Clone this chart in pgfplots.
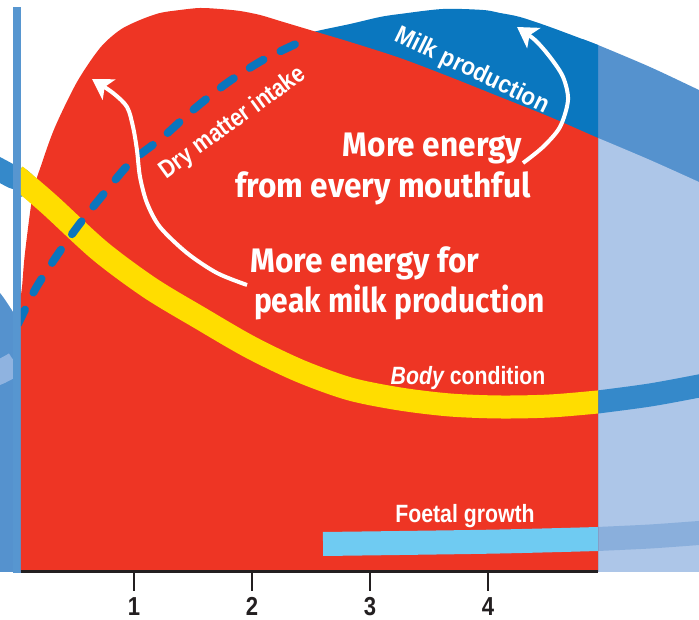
\documentclass[border=0pt]{standalone}
\usepackage{pgfplots}
\pgfplotsset{compat=1.18}
\usepackage{graphicx}
\usepackage{fontspec}
\setmainfont{Liberation Sans}
\newfontfamily\hand{Fira Sans}
\usetikzlibrary{arrows.meta}

\definecolor{cowred}{HTML}{EE3524}
\definecolor{milkblue}{HTML}{0A77BF}
\definecolor{dashblue}{HTML}{0B75BD}
\definecolor{bodyyel}{HTML}{FFDD00}
\definecolor{bodyblue}{HTML}{3589CA}
\definecolor{foetal}{HTML}{6FCBF2}
\definecolor{foetalpale}{HTML}{8AAFDC}
\definecolor{paleblue}{HTML}{ADC6E8}
\definecolor{midblue}{HTML}{5592CE}
\definecolor{barblue}{HTML}{5796D0}
\definecolor{stripe}{HTML}{8FB3E0}
\definecolor{baseblk}{HTML}{231F20}

\newcommand{\cnd}[1]{\scalebox{0.85}[1]{#1}}
\newcommand{\lbl}{\bfseries\fontsize{25}{28}\selectfont}
\newcommand{\hnd}{\hand\bfseries\fontsize{34}{38}\selectfont}
\newcommand{\hw}[1]{\scalebox{0.93}[1]{#1}}

\pgfplotsset{
  layer/.style={scale only axis, height=620pt, ymin=-4.8, ymax=57.2,
    anchor=south west, clip=true},
}

\begin{document}
\begin{tikzpicture}
% background: the previous and next cycle beyond the lactation window
\begin{axis}[layer, name=A, at={(0,0)}, width=699pt,
    xmin=-0.135593, xmax=5.788136, hide axis]
  % right side
  \addplot[draw=none, fill=midblue, smooth] coordinates {
    (4.80,53.3) (4.932,52.7) (5.373,50.5) (5.788,48.2) (5.9,47.6)} \closedcycle;
  \addplot[draw=none, fill=paleblue, smooth] coordinates {
    (4.80,44.0) (4.932,43.4) (5.373,41.2) (5.788,39.0) (5.9,38.4)} \closedcycle;
  \addplot[bodyblue, line width=23pt, smooth] coordinates {
    (4.80,16.8) (4.932,17.0) (5.373,17.7) (5.788,18.6) (5.9,18.9)};
  \addplot[foetalpale, line width=24pt, smooth] coordinates {
    (4.80,3.2) (4.932,3.3) (5.373,3.55) (5.788,3.9) (5.9,4.0)};
  % left side
  \addplot[draw=none, fill=midblue, smooth] coordinates {
    (-0.2,28.5) (-0.136,27.9) (-0.080,27.0) (-0.025,26.0) (0.0,25.6)} \closedcycle;
  \addplot[stripe, line width=24pt, smooth] coordinates {
    (-0.2,19.7) (-0.136,20.0) (-0.025,20.7) (0.0,20.9)};
  \addplot[bodyblue, line width=23pt, smooth] coordinates {
    (-0.2,40.6) (-0.136,40.2) (-0.025,39.5) (0.042,39.2) (0.12,38.3)};
  % calving bar
  \addplot[draw=none, fill=barblue] coordinates {
    (-0.0254,-0.1) (-0.0254,56.5) (0.0424,56.5) (0.0424,-0.1)} -- cycle;
\end{axis}

% lactation window, months 0 to ~4.9
\begin{axis}[layer, at={(21pt,0)}, width=577pt,
    xmin=0.04237, xmax=4.93220,
    axis x line=middle, axis y line=none, axis on top,
    x axis line style={-, line width=3pt, draw=baseblk},
    xtick={1,2,3,4}, ytick=\empty,
    xticklabels={\cnd{1},\cnd{2},\cnd{3},\cnd{4}},
    tick align=outside, major tick length=19pt,
    xtick style={line width=2.6pt, draw=baseblk},
    xticklabel style={font=\bfseries\fontsize{26}{26}\selectfont,
      text=baseblk, yshift=-3pt},
    /pgf/number format/assume math mode=true]
  % milk production
  \addplot[draw=none, fill=milkblue, smooth] coordinates {
    (2.40,53.4) (2.517,54.0) (2.831,54.8) (3.085,55.5) (3.254,55.8)
    (3.619,56.3) (3.958,56.2) (4.102,55.9) (4.271,55.5) (4.525,54.5)
    (4.932,52.7) (5.1,51.9)} \closedcycle;
  % energy demand
  \addplot[draw=none, fill=cowred, smooth] coordinates {
    (0.034,27.2) (0.051,28.5) (0.076,31.9) (0.144,37.9) (0.220,40.9)
    (0.331,44.5) (0.517,49.0) (0.712,52.4) (0.881,54.2) (1.051,55.2)
    (1.220,55.9) (1.390,56.2) (1.559,56.4) (1.729,56.3) (1.898,56.1)
    (2.068,55.7) (2.237,55.1) (2.407,54.5) (2.576,53.9) (2.831,53.0)
    (3.254,51.4) (3.678,49.5) (4.102,47.5) (4.525,45.5) (4.932,43.4)
    (5.119,42.5)} \closedcycle;
  % body condition
  \addplot[bodyyel, line width=23pt, smooth] coordinates {
    (0.0,39.6) (0.042,39.2) (0.288,36.7) (0.712,32.1) (1.136,28.4)
    (1.559,25.4) (1.983,22.5) (2.407,20.1) (2.831,18.3) (3.254,17.3)
    (3.678,16.7) (4.102,16.5) (4.525,16.6) (4.932,17.0) (5.1,17.2)};
  % foetal growth
  \addplot[foetal, line width=24pt, smooth] coordinates {
    (2.602,2.8) (3.254,2.9) (4.102,3.05) (4.932,3.3) (5.1,3.4)};
  % dry matter intake
  \addplot[dashblue, line width=8pt, line cap=round,
    dash pattern=on 16pt off 19pt, smooth] coordinates {
    (0.017,24.8) (0.042,25.4) (0.169,28.4) (0.356,31.8) (0.551,35.0)
    (0.771,38.2) (0.975,41.0) (1.246,43.5) (1.500,46.2) (1.788,48.9)
    (2.093,51.2) (2.407,53.0) (2.508,53.6)};
  % callout arrows
  \addplot[white, line width=4pt, smooth,
    -{Stealth[length=20pt, width=24pt, inset=5pt]}] coordinates {
    (1.958,28.7) (1.703,29.9) (1.449,31.9) (1.220,34.5) (1.110,36.9)
    (1.051,39.5) (1.025,42.2) (0.992,44.5) (0.941,46.5) (0.822,47.9)
    (0.644,49.3)};
  \addplot[white, line width=4pt, smooth,
    -{Stealth[length=20pt, width=24pt, inset=5pt]}] coordinates {
    (4.297,40.9) (4.466,42.5) (4.610,44.5) (4.678,47.2) (4.636,49.5)
    (4.525,51.5) (4.398,53.2) (4.246,54.5)};
  % series labels
  \node[text=white, rotate=-26] at (axis cs:3.864,50.1)
    {\lbl\scalebox{0.9}[1]{Milk production}};
  \node[text=white, rotate=36] at (axis cs:1.839,44.9)
    {\lbl\cnd{Dry matter intake}};
  \node[text=white, anchor=base] at (axis cs:3.831,18.7)
    {\lbl\cnd{\itshape Body \upshape condition}};
  \node[text=white, anchor=base] at (axis cs:3.805,4.9)
    {\lbl\cnd{Foetal growth}};
  % callouts
  \node[text=white, anchor=base] at (axis cs:3.530,41.5)
    {\hnd\hw{More energy}};
  \node[text=white, anchor=base] at (axis cs:3.110,37.4)
    {\hnd\hw{from every mouthful}};
  \node[text=white, anchor=base] at (axis cs:2.958,29.9)
    {\hnd\hw{More energy for}};
  \node[text=white, anchor=base] at (axis cs:3.250,25.9)
    {\hnd\scalebox{0.88}[1]{peak milk production}};
\end{axis}
\pgfresetboundingbox
\path (A.south west) rectangle (A.north east);
\end{tikzpicture}
\end{document}
